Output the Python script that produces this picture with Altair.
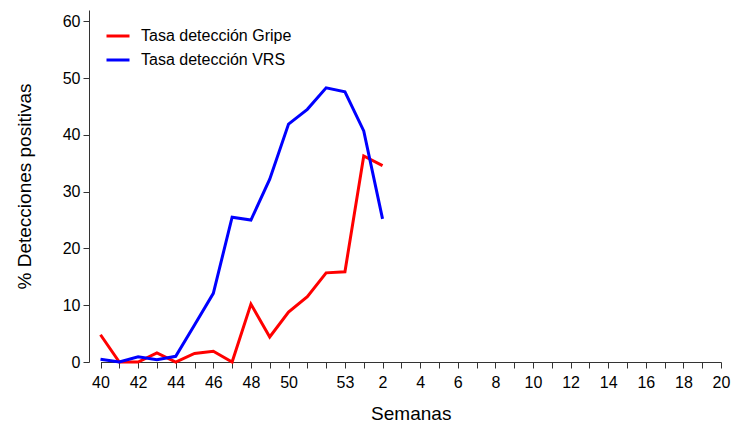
import altair as alt
import pandas as pd

# ── Data ────────────────────────────────────────────────────────────────────
weeks = [str(w) for w in range(40, 54)] + [str(w) for w in range(1, 21)]
shown_labels = ["40", "42", "44", "46", "48", "50", "53",
                "2", "4", "6", "8", "10", "12", "14", "16", "18", "20"]

obs_weeks = ["40", "41", "42", "43", "44", "45", "46", "47", "48", "49",
             "50", "51", "52", "53", "1", "2"]
gripe = [4.8, 0.0, 0.0, 1.6, 0.0, 1.5, 1.9, 0.0, 10.2, 4.4,
         8.8, 11.5, 15.7, 15.9, 36.3, 34.6]
vrs = [0.5, 0.0, 0.9, 0.4, 1.0, 6.5, 12.1, 25.5, 25.0, 32.2,
       41.9, 44.5, 48.3, 47.6, 40.7, 25.2]

series = ["Tasa detección Gripe", "Tasa detección VRS"]
colors = ["#ff0000", "#0000ff"]

df = pd.DataFrame({
    "semana": obs_weeks * 2,
    "orden": list(range(len(obs_weeks))) * 2,
    "valor": gripe + vrs,
    "serie": [series[0]] * len(gripe) + [series[1]] * len(vrs),
})

label_expr = "indexof(" + str(shown_labels) + ", datum.label) >= 0 ? datum.label : ''"

# ── Chart ───────────────────────────────────────────────────────────────────
chart = (
    alt.Chart(df)
    .mark_line(strokeWidth=3)
    .encode(
        x=alt.X(
            "semana:O",
            sort=weeks,
            scale=alt.Scale(domain=weeks, type="point", padding=0, range=[11.5, 632]),
            axis=alt.Axis(
                title="Semanas", labelAngle=0, labelExpr=label_expr,
                labelOverlap=False, labelFontSize=16, labelPadding=6,
                tickSize=6, titleFontSize=19, titleFontWeight="normal",
                titlePadding=14,
            ),
        ),
        y=alt.Y(
            "valor:Q",
            scale=alt.Scale(domain=[0, 62], nice=False),
            axis=alt.Axis(
                title="% Detecciones positivas", values=[0, 10, 20, 30, 40, 50, 60],
                grid=False, labelFontSize=16, labelPadding=3, tickSize=6,
                titleFontSize=19, titleFontWeight="normal", titlePadding=28,
            ),
        ),
        color=alt.Color(
            "serie:N",
            scale=alt.Scale(domain=series, range=colors),
            legend=alt.Legend(
                title=None, orient="none", legendX=16, legendY=13,
                symbolType="stroke", symbolSize=529, symbolStrokeWidth=3,
                labelFontSize=16, labelOffset=10, rowPadding=3,
            ),
        ),
        order="orden:Q",
    )
    .properties(
        width=641, height=352,
        autosize=alt.AutoSizeParams(type="none"),
        padding={"left": 81, "top": 2, "right": 1, "bottom": 62},
    )
    .configure_view(stroke=None)
    .configure_axis(
        domainColor="#333333", tickColor="#333333", labelColor="#000000",
        titleColor="#000000", labelFont="Liberation Sans",
        titleFont="Liberation Sans", grid=False,
    )
    .configure_legend(labelFont="Liberation Sans", labelColor="#000000")
)

chart.save("out.html", embed_options={"renderer": "svg", "actions": False})
